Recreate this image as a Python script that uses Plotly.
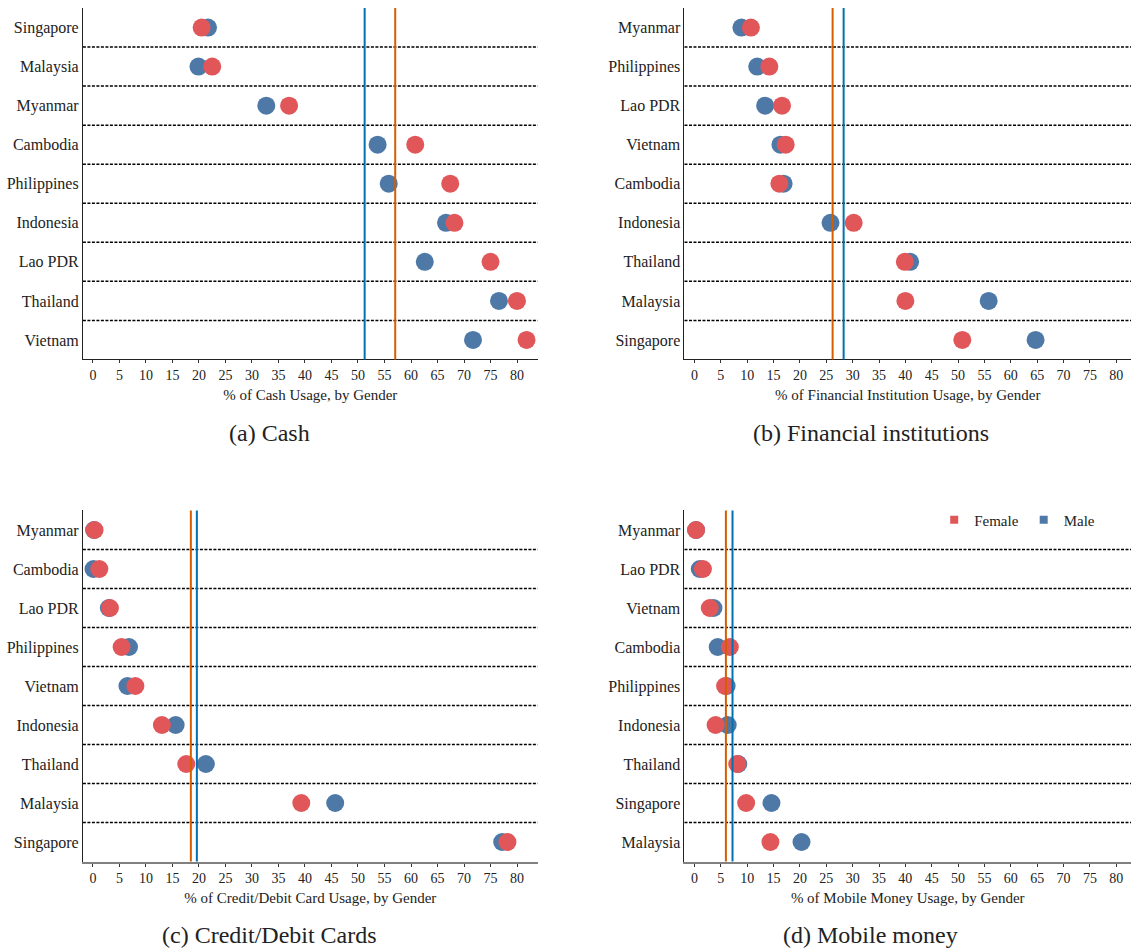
import numpy as np
import plotly.graph_objects as go

FONT = "'Liberation Serif', 'Times New Roman', Times, serif"
RED = "#E15759"
BLUE = "#4E79A7"
MEAN_FEMALE = "#D55E00"
MEAN_MALE = "#0072B2"

# (a) Cash
cash_countries = ["Singapore", "Malaysia", "Myanmar", "Cambodia", "Philippines",
                  "Indonesia", "Lao PDR", "Thailand", "Vietnam"]
cash_male = [21.7, 19.9, 32.7, 53.7, 55.8, 66.6, 62.6, 76.6, 71.7]
cash_female = [20.5, 22.5, 37.0, 60.8, 67.4, 68.2, 75.0, 80.0, 81.8]

# (b) Financial institutions
fi_countries = ["Myanmar", "Philippines", "Lao PDR", "Vietnam", "Cambodia",
                "Indonesia", "Thailand", "Malaysia", "Singapore"]
fi_male = [8.9, 11.9, 13.4, 16.3, 16.9, 25.8, 40.9, 55.8, 64.7]
fi_female = [10.7, 14.2, 16.6, 17.3, 16.1, 30.2, 39.9, 40.0, 50.8]

# (c) Credit/Debit cards
card_countries = ["Myanmar", "Cambodia", "Lao PDR", "Philippines", "Vietnam",
                  "Indonesia", "Thailand", "Malaysia", "Singapore"]
card_male = [0.2, 0.1, 3.0, 6.8, 6.5, 15.6, 21.3, 45.7, 77.2]
card_female = [0.3, 1.2, 3.2, 5.4, 8.0, 13.0, 17.6, 39.3, 78.2]

# (d) Mobile money
mm_countries = ["Myanmar", "Lao PDR", "Vietnam", "Cambodia", "Philippines",
                "Indonesia", "Thailand", "Singapore", "Malaysia"]
mm_male = [0.3, 1.0, 3.6, 4.4, 6.1, 6.3, 8.3, 14.6, 20.3]
mm_female = [0.3, 1.6, 2.9, 6.7, 5.8, 4.0, 8.1, 9.8, 14.4]

x_ticks = list(range(0, 81, 5))

panels = [
    dict(countries=cash_countries, male=cash_male, female=cash_female,
         xtitle="% of Cash Usage, by Gender", caption="(a) Cash",
         xdom=[0.0733, 0.4754], ydom=[0.6220, 0.9916], xrange=[-1.9, 83.9],
         cap_x=0.2385, cap_y=0.5447, spine="#222222", spine_w=1),
    dict(countries=fi_countries, male=fi_male, female=fi_female,
         xtitle="% of Financial Institution Usage, by Gender",
         caption="(b) Financial institutions",
         xdom=[0.6052, 1.0], ydom=[0.6220, 0.9916], xrange=[-1.9, 82.8],
         cap_x=0.770, cap_y=0.5447, spine="#222222", spine_w=1),
    dict(countries=card_countries, male=card_male, female=card_female,
         xtitle="% of Credit/Debit Card Usage, by Gender",
         caption="(c) Credit/Debit Cards",
         xdom=[0.0733, 0.4754], ydom=[0.0941, 0.4632], xrange=[-1.9, 83.9],
         cap_x=0.2385, cap_y=0.0168, spine="#808080", spine_w=2),
    dict(countries=mm_countries, male=mm_male, female=mm_female,
         xtitle="% of Mobile Money Usage, by Gender", caption="(d) Mobile money",
         xdom=[0.6052, 1.0], ydom=[0.0941, 0.4632], xrange=[-1.9, 82.8],
         cap_x=0.770, cap_y=0.0168, spine="#808080", spine_w=2),
]

fig = go.Figure()
shapes = []
annotations = []
layout_axes = {}

for i, p in enumerate(panels, start=1):
    xa = "x" if i == 1 else f"x{i}"
    ya = "y" if i == 1 else f"y{i}"
    rows = list(range(len(p["countries"])))

    fig.add_trace(go.Scatter(
        x=p["male"], y=rows, xaxis=xa, yaxis=ya, mode="markers", name="Male",
        marker=dict(color=BLUE, size=18, line=dict(width=0)),
        showlegend=False, hovertext=p["countries"]))
    fig.add_trace(go.Scatter(
        x=p["female"], y=rows, xaxis=xa, yaxis=ya, mode="markers", name="Female",
        marker=dict(color=RED, size=18, line=dict(width=0)),
        showlegend=False, hovertext=p["countries"]))

    # dashed separators between countries
    for r in rows[:-1]:
        shapes.append(dict(type="line", xref=f"{xa} domain", yref=ya,
                           x0=0, x1=1, y0=r + 0.5, y1=r + 0.5,
                           line=dict(color="black", width=1.5, dash="3px,1.5px"),
                           layer="below"))

    # group averages
    for vals, col in ((p["female"], MEAN_FEMALE), (p["male"], MEAN_MALE)):
        m = float(np.mean(vals))
        shapes.append(dict(type="line", xref=xa, yref=f"{ya} domain",
                           x0=m, x1=m, y0=0, y1=1,
                           line=dict(color=col, width=2), layer="above"))

    axis_key = "xaxis" if i == 1 else f"xaxis{i}"
    yaxis_key = "yaxis" if i == 1 else f"yaxis{i}"
    layout_axes[axis_key] = dict(
        domain=p["xdom"], anchor=ya, range=p["xrange"],
        tickmode="array", tickvals=x_ticks,
        ticks="outside", ticklen=3, tickwidth=1, tickcolor="#333333",
        showline=True, linecolor=p["spine"], linewidth=p["spine_w"],
        showgrid=False, zeroline=False,
        tickfont=dict(family=FONT, size=14, color="#222222"),
        title=dict(text=p["xtitle"], standoff=7,
                   font=dict(family=FONT, size=15, color="#222222")),
    )
    layout_axes[yaxis_key] = dict(
        domain=p["ydom"], anchor=xa, range=[len(rows) - 0.5, -0.5],
        tickmode="array", tickvals=rows, ticktext=p["countries"],
        ticks="", showline=True, linecolor="#222222", linewidth=1,
        showgrid=False, zeroline=False,
        tickfont=dict(family=FONT, size=16, color="#222222"),
    )

    annotations.append(dict(text=p["caption"], xref="paper", yref="paper",
                            x=p["cap_x"], y=p["cap_y"], xanchor="center",
                            yanchor="middle", showarrow=False,
                            font=dict(family=FONT, size=24, color="#222222")))

# legend entries
fig.add_trace(go.Scatter(x=[None], y=[None], xaxis="x4", yaxis="y4", mode="markers",
                         name="Female", marker=dict(color=RED, symbol="square", size=8)))
fig.add_trace(go.Scatter(x=[None], y=[None], xaxis="x4", yaxis="y4", mode="markers",
                         name="Male", marker=dict(color=BLUE, symbol="square", size=8)))

fig.update_layout(
    width=1131, height=951,
    margin=dict(l=0, r=0, t=0, b=0),
    paper_bgcolor="white", plot_bgcolor="white",
    font=dict(family=FONT, color="#222222"),
    shapes=shapes, annotations=annotations,
    showlegend=True,
    legend=dict(orientation="h", x=0.826, y=0.4532, xanchor="left", yanchor="middle",
                bgcolor="rgba(0,0,0,0)", itemwidth=30,
                font=dict(family=FONT, size=15, color="#222222")),
    **layout_axes,
)

fig.write_html("out.html")
